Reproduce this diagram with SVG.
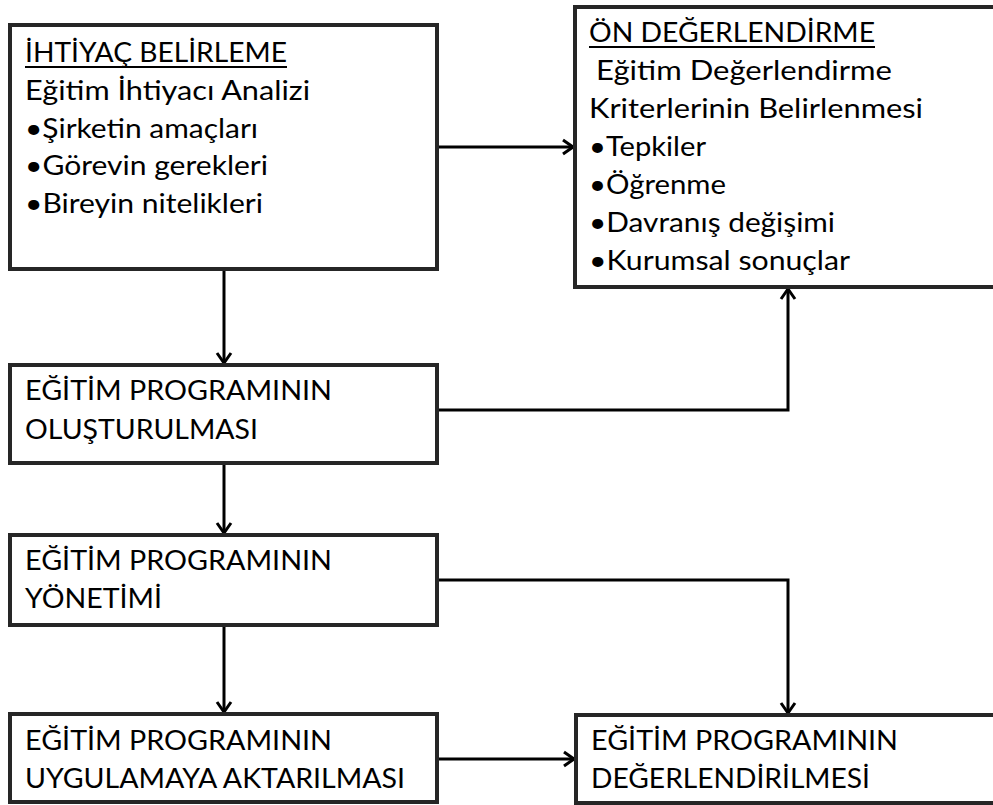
<svg xmlns="http://www.w3.org/2000/svg" width="993" height="805" viewBox="0 0 993 805">
<style>
.box{fill:#fff;stroke:#262626;stroke-width:4}
.t{font-family:Lato,"Open Sans","Liberation Sans",sans-serif;font-size:26px;fill:#000}
.u{text-decoration:underline}
.c{fill:none;stroke:#000;stroke-width:3}
</style>
<defs>
<marker id="ah" markerWidth="14" markerHeight="18" refX="12" refY="9" orient="auto" markerUnits="userSpaceOnUse">
<path d="M2,2 L12,9 L2,16" fill="none" stroke="#000" stroke-width="3"/>
</marker>
</defs>
<rect width="993" height="805" fill="#fff"/>
<g id="connectors">
<line class="c" x1="437" y1="147" x2="573" y2="147" marker-end="url(#ah)"/>
<line class="c" x1="224" y1="269" x2="224" y2="363" marker-end="url(#ah)"/>
<polyline class="c" points="437,410 788,410 788,289" marker-end="url(#ah)"/>
<line class="c" x1="224" y1="463" x2="224" y2="533" marker-end="url(#ah)"/>
<line class="c" x1="224" y1="625" x2="224" y2="712" marker-end="url(#ah)"/>
<polyline class="c" points="437,580 788,580 788,713" marker-end="url(#ah)"/>
<line class="c" x1="437" y1="759" x2="574" y2="759" marker-end="url(#ah)"/>
</g>
<g id="ihtiyac">
<rect class="box" x="10" y="25" width="427" height="244"/>
<text class="t" x="25" y="62" textLength="262" lengthAdjust="spacingAndGlyphs">İHTİYAÇ BELİRLEME</text>
<line x1="25" y1="67" x2="287" y2="67" stroke="#000" stroke-width="2"/>
<text class="t" x="25" y="100" textLength="285" lengthAdjust="spacingAndGlyphs">Eğitim İhtiyacı Analizi</text>
<text class="t" x="25" y="138" textLength="233" lengthAdjust="spacingAndGlyphs">•Şirketin amaçları</text>
<text class="t" x="25" y="175" textLength="243" lengthAdjust="spacingAndGlyphs">•Görevin gerekleri</text>
<text class="t" x="25" y="213" textLength="238" lengthAdjust="spacingAndGlyphs">•Bireyin nitelikleri</text>
</g>
<g id="on-degerlendirme">
<rect class="box" x="575" y="7" width="430" height="280"/>
<text class="t" x="589" y="42" textLength="286" lengthAdjust="spacingAndGlyphs">ÖN DEĞERLENDİRME</text>
<line x1="589" y1="47" x2="875" y2="47" stroke="#000" stroke-width="2"/>
<text class="t" x="596" y="80" textLength="296" lengthAdjust="spacingAndGlyphs">Eğitim Değerlendirme</text>
<text class="t" x="589" y="118" textLength="334" lengthAdjust="spacingAndGlyphs">Kriterlerinin Belirlenmesi</text>
<text class="t" x="589" y="156" textLength="117" lengthAdjust="spacingAndGlyphs">•Tepkiler</text>
<text class="t" x="589" y="194" textLength="137" lengthAdjust="spacingAndGlyphs">•Öğrenme</text>
<text class="t" x="589" y="232" textLength="246" lengthAdjust="spacingAndGlyphs">•Davranış değişimi</text>
<text class="t" x="589" y="270" textLength="261" lengthAdjust="spacingAndGlyphs">•Kurumsal sonuçlar</text>
</g>
<g id="olusturulmasi">
<rect class="box" x="10" y="365" width="427" height="98"/>
<text class="t" x="25" y="400" textLength="307" lengthAdjust="spacingAndGlyphs">EĞİTİM PROGRAMININ</text>
<text class="t" x="25" y="439" textLength="233" lengthAdjust="spacingAndGlyphs">OLUŞTURULMASI</text>
</g>
<g id="yonetimi">
<rect class="box" x="10" y="535" width="427" height="90"/>
<text class="t" x="25" y="570" textLength="307" lengthAdjust="spacingAndGlyphs">EĞİTİM PROGRAMININ</text>
<text class="t" x="25" y="608" textLength="137" lengthAdjust="spacingAndGlyphs">YÖNETİMİ</text>
</g>
<g id="uygulama">
<rect class="box" x="10" y="714" width="427" height="88"/>
<text class="t" x="25" y="750" textLength="307" lengthAdjust="spacingAndGlyphs">EĞİTİM PROGRAMININ</text>
<text class="t" x="25" y="788" textLength="380" lengthAdjust="spacingAndGlyphs">UYGULAMAYA AKTARILMASI</text>
</g>
<g id="degerlendirilmesi">
<rect class="box" x="576" y="715" width="430" height="88"/>
<text class="t" x="591" y="750" textLength="307" lengthAdjust="spacingAndGlyphs">EĞİTİM PROGRAMININ</text>
<text class="t" x="591" y="788" textLength="279" lengthAdjust="spacingAndGlyphs">DEĞERLENDİRİLMESİ</text>
</g>
</svg>
